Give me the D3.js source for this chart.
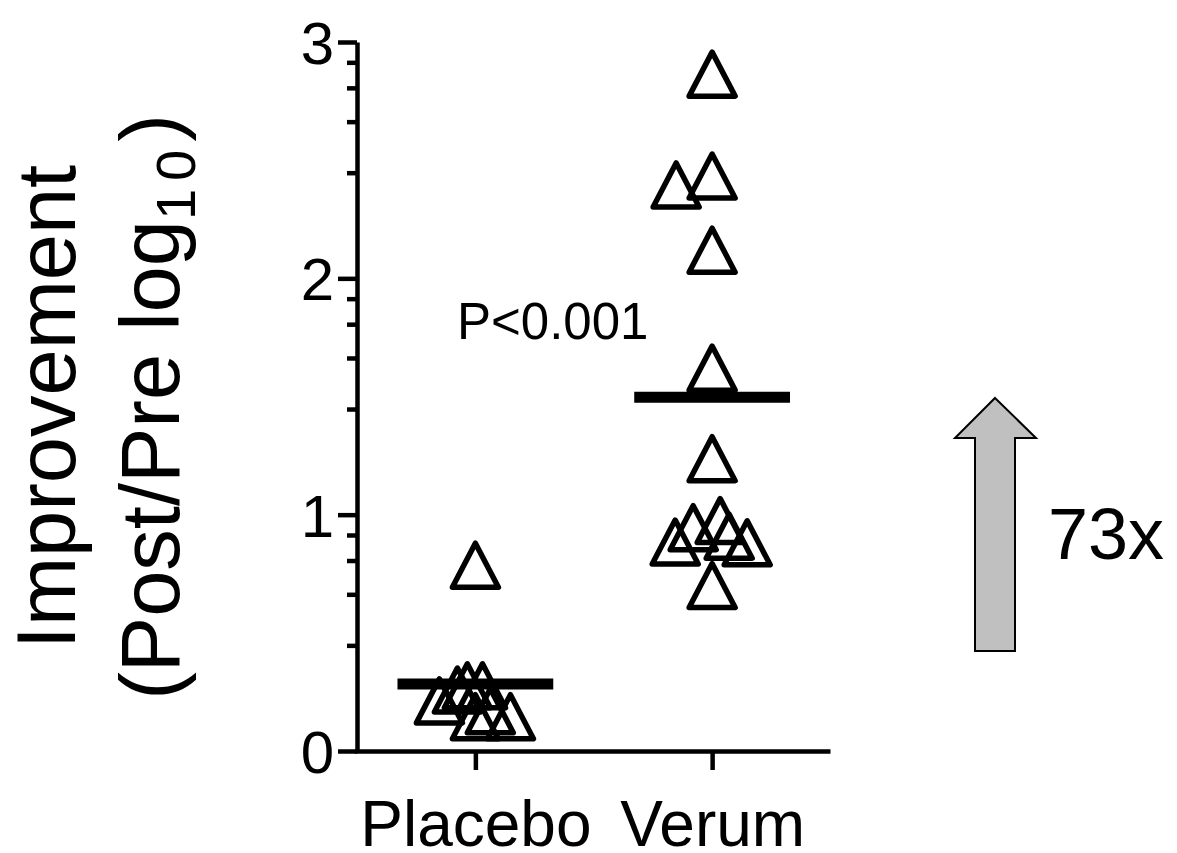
<!DOCTYPE html>
<html>
<head>
<meta charset="utf-8">
<script src="https://cdn.jsdelivr.net/npm/d3@7"></script>
<style>
  html, body { margin: 0; padding: 0; background: #fff; }
  svg { display: block; }
  text { font-family: "Liberation Sans", Arial, Helvetica, sans-serif; fill: #000; }
</style>
</head>
<body>
<svg id="chart" width="1177" height="853"></svg>
<script>
// ---- data ----
const categories = ["Placebo", "Verum"];
const placeboValues = [0.786, 0.258, 0.276, 0.276, 0.145, 0.145, 0.212, 0.17];
const placeboJitter = [0.0, -0.076, -0.034, 0.030, 0.0, 0.148, -0.152, 0.063];
const verumValues = [2.864, 2.395, 2.433, 2.119, 1.62, 1.237, 0.884, 0.945, 0.975, 0.909, 0.881, 0.70];
const verumJitter = [0.0, -0.152, 0.0, 0.0, 0.0, 0.0, -0.156, -0.08, 0.034, 0.072, 0.148, 0.0];
const yMajorTicks = [0, 1, 2, 3];
const yMinorOffsets = [0.447, 0.663, 0.806, 0.914];
const pText = "P<0.001";
const foldText = "73x";

// ---- layout ----
const svg = d3.select("#chart");
const axisX = 357, axisY = 751, axisTop = 42, axisRight = 830.5;
const font = '"Liberation Sans", Arial, Helvetica, sans-serif';

const y = d3.scaleLinear().domain([0, 3]).range([axisY, axisTop]);
const x = d3.scaleLinear().domain([-0.5, 1.5]).range([axisX, axisRight]);

const groups = [
  { idx: 0, values: placeboValues, jitter: placeboJitter },
  { idx: 1, values: verumValues, jitter: verumJitter }
];

// minor ticks
const minorTicks = [];
yMajorTicks.slice(0, -1).forEach(m => yMinorOffsets.forEach(o => minorTicks.push(m + o)));

const yMinor = svg.append("g").attr("transform", `translate(${axisX},0)`)
  .call(d3.axisLeft(y).tickValues(minorTicks).tickSize(10).tickSizeOuter(0).tickFormat(""));
yMinor.select(".domain").remove();
yMinor.selectAll("line").attr("stroke", "#000").attr("stroke-width", 4.5);

const yAx = svg.append("g").attr("transform", `translate(${axisX},0)`)
  .call(d3.axisLeft(y).tickValues(yMajorTicks).tickSize(19).tickSizeOuter(0).tickPadding(4).tickFormat(d3.format("d")));
yAx.select(".domain").attr("stroke", "#000").attr("stroke-width", 4.5);
yAx.selectAll("line").attr("stroke", "#000").attr("stroke-width", 4.5);
yAx.selectAll("text").attr("font-family", font).attr("font-size", 60).attr("fill", "#000").attr("dy", "0.36em");

const xAx = svg.append("g").attr("transform", `translate(0,${axisY})`)
  .call(d3.axisBottom(x).tickValues([0, 1]).tickSize(19).tickSizeOuter(0).tickFormat(i => categories[i]));
xAx.select(".domain").attr("stroke", "#000").attr("stroke-width", 4.5)
  .attr("d", `M${axisX - 2.25},0.5H${axisRight}`);
xAx.selectAll("line").attr("stroke", "#000").attr("stroke-width", 4.5);
xAx.selectAll("text").attr("font-family", font).attr("font-size", 64).attr("fill", "#000")
  .attr("y", 95).attr("dy", 0);

// triangle symbol centred on its bounding box
const triSymbol = {
  draw(ctx, size) {
    const hw = 23, hh = 22;
    ctx.moveTo(0, -hh);
    ctx.lineTo(hw, hh);
    ctx.lineTo(-hw, hh);
    ctx.closePath();
  }
};
const sym = d3.symbol().type(triSymbol);

groups.forEach(g => {
  svg.append("g").selectAll("path")
    .data(g.values.map((v, i) => ({ v, j: g.jitter[i] })))
    .join("path")
    .attr("d", sym)
    .attr("transform", d => `translate(${x(g.idx + d.j)},${y(d.v)})`)
    .attr("fill", "none")
    .attr("stroke", "#000")
    .attr("stroke-width", 5.5)
    .attr("stroke-linejoin", "round");
  const m = d3.mean(g.values);
  svg.append("line")
    .attr("x1", x(g.idx - 0.329)).attr("x2", x(g.idx + 0.329))
    .attr("y1", y(m)).attr("y2", y(m))
    .attr("stroke", "#000").attr("stroke-width", 11);
});

// p-value
svg.append("text").attr("x", 457).attr("y", 339)
  .attr("font-size", 51).attr("font-family", font).text(pText);

// y-axis title
const title = svg.append("g").attr("transform", "translate(0,407) rotate(-90)");
title.append("text").attr("x", 0).attr("y", 75).attr("text-anchor", "middle")
  .attr("font-size", 83).attr("font-family", font).text("Improvement");
const t2 = title.append("text").attr("x", 0).attr("y", 179).attr("text-anchor", "middle")
  .attr("font-size", 83).attr("font-family", font);
t2.append("tspan").text("(Post/Pre log");
t2.append("tspan").attr("font-size", 56).attr("dy", 16).attr("letter-spacing", 8).text("10");
t2.append("tspan").attr("dy", -16).text(")");

// fold-change arrow
const arrow = d3.path();
arrow.moveTo(995, 398);
arrow.lineTo(1036, 438);
arrow.lineTo(1015, 438);
arrow.lineTo(1015, 651);
arrow.lineTo(975, 651);
arrow.lineTo(975, 438);
arrow.lineTo(955, 438);
arrow.closePath();
svg.append("path").attr("d", arrow.toString())
  .attr("fill", "#c0c0c0").attr("stroke", "#000").attr("stroke-width", 2);

svg.append("text").attr("x", 1048).attr("y", 559)
  .attr("font-size", 72).attr("font-family", font).text(foldText);
</script>
</body>
</html>
